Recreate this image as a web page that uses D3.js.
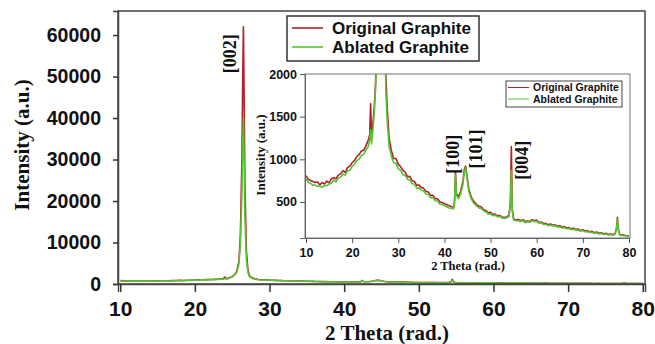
<!DOCTYPE html>
<html>
<head>
<meta charset="utf-8">
<script src="https://cdn.jsdelivr.net/npm/d3@7"></script>
<style>
  html, body { margin: 0; padding: 0; background: #fff; }
  svg { display: block; }
</style>
</head>
<body>
<svg id="chart" width="655" height="344"></svg>
<script>
// 2-theta positions shared by both scans
const angles = [
  10, 10.5, 11, 11.5, 12, 12.5, 13, 13.5, 14, 14.5,
  15, 15.5, 16, 16.5, 17, 17.5, 18, 18.5, 19, 19.5,
  20, 20.5, 21, 21.5, 22, 22.5, 23, 23.5, 23.8, 24.0,
  24.2, 24.5, 24.8, 25.0, 25.3, 25.6, 25.9, 26.1, 26.3, 26.4,
  26.5, 26.6, 26.7, 26.9, 27.1, 27.3, 27.6, 28, 28.5, 29,
  29.5, 30, 30.5, 31, 31.5, 32, 32.5, 33, 33.5, 34,
  34.5, 35, 35.5, 36, 36.5, 37, 37.5, 38, 38.5, 39,
  39.5, 40, 40.5, 41, 41.5, 42, 42.2, 42.4, 42.6, 43,
  43.5, 44, 44.3, 44.6, 44.9, 45.3, 45.8, 46.3, 47, 47.5,
  48, 48.5, 49, 49.5, 50, 50.5, 51, 51.5, 52, 52.5,
  53, 53.5, 54, 54.3, 54.5, 54.7, 55, 55.5, 56, 56.5,
  57, 57.5, 58, 58.5, 59, 59.5, 60, 60.5, 61, 61.5,
  62, 62.5, 63, 63.5, 64, 64.5, 65, 65.5, 66, 66.5,
  67, 67.5, 68, 68.5, 69, 69.5, 70, 70.5, 71, 71.5,
  72, 72.5, 73, 73.5, 74, 74.5, 75, 75.5, 76, 76.5,
  77, 77.3, 77.5, 77.7, 78, 78.5, 79, 79.5, 80
];

const originalGraphite = [
  810, 765, 752, 740, 728, 735, 700, 728, 712, 745,
  725, 770, 785, 772, 815, 830, 868, 846, 905, 920,
  960, 985, 1030, 1055, 1098, 1105, 1160, 1225, 1290, 1650,
  1300, 1420, 1620, 1800, 2200, 3000, 5500, 12000, 30000, 48000,
  62000, 45000, 24000, 8000, 3500, 2000, 1600, 1250, 1100, 1010,
  1010, 940, 915, 870, 850, 795, 800, 748, 740, 695,
  700, 670, 660, 622, 618, 575, 580, 540, 538, 500,
  495, 480, 470, 455, 445, 440, 520, 850, 600, 560,
  620, 740, 880, 920, 800, 650, 560, 510, 470, 450,
  440, 410, 400, 372, 378, 352, 358, 338, 342, 322,
  320, 325, 345, 500, 1150, 420, 300, 290, 295, 280,
  292, 270, 278, 272, 292, 282, 288, 260, 266, 245,
  250, 232, 242, 228, 232, 215, 222, 205, 212, 196,
  200, 185, 194, 176, 182, 165, 175, 160, 165, 150,
  156, 140, 148, 134, 140, 126, 134, 120, 126, 116,
  130, 200, 320, 180, 120, 115, 110, 105, 100
];

const ablatedGraphite = [
  770, 728, 720, 695, 700, 682, 688, 672, 695, 690,
  710, 718, 758, 735, 782, 790, 828, 815, 868, 872,
  918, 938, 985, 1002, 1048, 1058, 1110, 1150, 1230, 1350,
  1180, 1340, 1550, 1750, 2100, 2800, 4800, 10000, 22000, 33000,
  40000, 30000, 16000, 6000, 2800, 1800, 1450, 1150, 1040, 960,
  950, 892, 870, 822, 810, 765, 760, 715, 708, 662,
  668, 638, 628, 592, 590, 548, 552, 515, 512, 475,
  470, 455, 445, 430, 425, 420, 500, 820, 580, 540,
  590, 700, 850, 900, 780, 620, 540, 490, 455, 430,
  422, 395, 385, 358, 362, 340, 345, 325, 330, 312,
  310, 315, 330, 480, 870, 400, 290, 280, 280, 270,
  282, 258, 268, 262, 282, 270, 276, 250, 256, 236,
  240, 222, 230, 218, 222, 205, 210, 195, 200, 186,
  190, 176, 184, 168, 172, 158, 165, 150, 155, 142,
  146, 132, 138, 126, 132, 118, 125, 112, 118, 108,
  125, 190, 300, 170, 112, 108, 104, 100, 95
];

const seriesNames = ["Original Graphite", "Ablated Graphite"];
const seriesColors = ["#b3202a", "#55c530"];

const xTicks = [10, 20, 30, 40, 50, 60, 70, 80];
const mainYTicks = [0, 10000, 20000, 30000, 40000, 50000, 60000];
const insetYTicks = [500, 1000, 1500, 2000];

const peakLabels = [
  { text: "[002]", angle: 26.5, value: 55500, inset: false },
  { text: "[100]", angle: 41.7, value: 1060, inset: true },
  { text: "[101]", angle: 46.7, value: 1120, inset: true },
  { text: "[004]", angle: 56.8, value: 990, inset: true }
];

const svg = d3.select("#chart");
const sans = "'Liberation Sans', Arial, sans-serif";
const serif = "'Liberation Serif', 'Times New Roman', serif";

const scans = [originalGraphite, ablatedGraphite].map((vals) =>
  angles.map((a, i) => ({ x: a, y: vals[i] }))
);

// ---------- main plot ----------
const main = { left: 118, right: 645, top: 11, bottom: 284 };
const x = d3.scaleLinear().domain([9.7, 80.3]).range([main.left, main.right]);
const y = d3.scaleLinear().domain([0, 65800]).range([main.bottom, main.top]);

const defs = svg.append("defs");
defs.append("clipPath").attr("id", "main-clip")
  .append("rect")
  .attr("x", main.left).attr("y", main.top)
  .attr("width", main.right - main.left).attr("height", main.bottom - main.top);

const mainLine = d3.line().x((d) => x(d.x)).y((d) => y(d.y));
svg.append("g").attr("clip-path", "url(#main-clip)")
  .selectAll("path")
  .data(scans)
  .join("path")
  .attr("fill", "none")
  .attr("stroke", (d, i) => seriesColors[i])
  .attr("stroke-width", 1.6)
  .attr("stroke-linejoin", "round")
  .attr("d", mainLine);

svg.append("rect")
  .attr("x", main.left).attr("y", main.top)
  .attr("width", main.right - main.left).attr("height", main.bottom - main.top)
  .attr("fill", "none").attr("stroke", "#444").attr("stroke-width", 1.5);

const xAxis = svg.append("g")
  .attr("transform", `translate(0,${main.bottom})`)
  .call(d3.axisBottom(x).tickValues(xTicks).tickSize(8).tickPadding(9));
const yAxis = svg.append("g")
  .attr("transform", `translate(${main.left},0)`)
  .call(d3.axisLeft(y).tickValues(mainYTicks).tickSize(5).tickPadding(12).tickFormat(d3.format("d")));

[xAxis, yAxis].forEach((g) => {
  g.select(".domain").attr("stroke", "#444").attr("stroke-width", 1.5);
  g.selectAll(".tick line").attr("stroke", "#333").attr("stroke-width", 1.5);
  g.selectAll(".tick text")
    .attr("fill", "#111").attr("font-family", sans).attr("font-weight", "bold");
});
xAxis.selectAll(".tick text").attr("font-size", 21);
yAxis.selectAll(".tick text").attr("font-size", 19.5);

svg.append("text")
  .attr("transform", "translate(22,145) rotate(-90)")
  .attr("dy", "0.35em")
  .attr("text-anchor", "middle")
  .attr("font-family", serif).attr("font-weight", "bold").attr("font-size", 21)
  .attr("fill", "#111")
  .text("Intensity (a.u.)");

svg.append("text")
  .attr("x", 387).attr("y", 340)
  .attr("text-anchor", "middle")
  .attr("font-family", serif).attr("font-weight", "bold").attr("font-size", 21)
  .attr("fill", "#111")
  .text("2 Theta (rad.)");

// main legend
const legend = svg.append("g");
legend.append("rect")
  .attr("x", 287).attr("y", 16).attr("width", 192).attr("height", 45)
  .attr("fill", "#fff").attr("stroke", "#333").attr("stroke-width", 1.5);
seriesNames.forEach((name, i) => {
  const ly = 28 + i * 19;
  legend.append("line")
    .attr("x1", 292).attr("x2", 323).attr("y1", ly).attr("y2", ly)
    .attr("stroke", seriesColors[i]).attr("stroke-width", 1.6);
  legend.append("text")
    .attr("x", 332).attr("y", ly + 5.5)
    .attr("font-family", sans).attr("font-weight", "bold").attr("font-size", 17)
    .attr("fill", "#111")
    .text(name);
});

// ---------- inset ----------
const inset = { left: 305, right: 630, top: 74, bottom: 238 };
const ix = d3.scaleLinear().domain([10, 80]).range([306, 629]);
const iy = d3.scaleLinear().domain([78, 2000]).range([inset.bottom, inset.top]);

svg.append("rect")
  .attr("x", inset.left).attr("y", inset.top)
  .attr("width", inset.right - inset.left).attr("height", inset.bottom - inset.top)
  .attr("fill", "#fff");

defs.append("clipPath").attr("id", "inset-clip")
  .append("rect")
  .attr("x", inset.left).attr("y", inset.top)
  .attr("width", inset.right - inset.left).attr("height", inset.bottom - inset.top);

const insetLine = d3.line().x((d) => ix(d.x)).y((d) => iy(d.y));
svg.append("g").attr("clip-path", "url(#inset-clip)")
  .selectAll("path")
  .data(scans)
  .join("path")
  .attr("fill", "none")
  .attr("stroke", (d, i) => seriesColors[i])
  .attr("stroke-width", 1.6)
  .attr("stroke-linejoin", "round")
  .attr("d", insetLine);

svg.append("rect")
  .attr("x", inset.left).attr("y", inset.top)
  .attr("width", inset.right - inset.left).attr("height", inset.bottom - inset.top)
  .attr("fill", "none").attr("stroke", "#777").attr("stroke-width", 1);

const ixAxis = svg.append("g")
  .attr("transform", `translate(0,${inset.bottom})`)
  .call(d3.axisBottom(ix).tickValues(xTicks).tickSize(5).tickPadding(5));
const iyAxis = svg.append("g")
  .attr("transform", `translate(${inset.left},0)`)
  .call(d3.axisLeft(iy).tickValues(insetYTicks).tickSize(5).tickPadding(3).tickFormat(d3.format("d")));

[ixAxis, iyAxis].forEach((g) => {
  g.select(".domain").attr("stroke", "#666");
  g.selectAll(".tick line").attr("stroke", "#555");
  g.selectAll(".tick text")
    .attr("fill", "#111").attr("font-family", sans).attr("font-weight", "bold")
    .attr("font-size", 12.5);
});

svg.append("text")
  .attr("transform", "translate(260,155) rotate(-90)")
  .attr("dy", "0.35em")
  .attr("text-anchor", "middle")
  .attr("font-family", serif).attr("font-weight", "bold").attr("font-size", 13)
  .attr("fill", "#111")
  .text("Intensity (a.u.)");

svg.append("text")
  .attr("x", 468).attr("y", 270)
  .attr("text-anchor", "middle")
  .attr("font-family", serif).attr("font-weight", "bold").attr("font-size", 12.5)
  .attr("fill", "#111")
  .text("2 Theta (rad.)");

// inset legend
const insetLegend = svg.append("g");
insetLegend.append("rect")
  .attr("x", 506).attr("y", 81).attr("width", 116).attr("height", 26)
  .attr("fill", "#fff").attr("stroke", "#444").attr("stroke-width", 1);
seriesNames.forEach((name, i) => {
  const ly = 87.5 + i * 11.5;
  insetLegend.append("line")
    .attr("x1", 508).attr("x2", 529).attr("y1", ly).attr("y2", ly)
    .attr("stroke", seriesColors[i]).attr("stroke-width", 1);
  insetLegend.append("text")
    .attr("x", 533).attr("y", ly + 3.5)
    .attr("font-family", sans).attr("font-weight", "bold").attr("font-size", 10.5)
    .attr("fill", "#111")
    .text(name);
});

// peak annotations (rotated Miller indices)
svg.append("g")
  .selectAll("text")
  .data(peakLabels)
  .join("text")
  .attr("transform", (d) => {
    const px = d.inset ? ix(d.angle) : x(d.angle) - 14;
    const py = d.inset ? iy(d.value) : y(d.value);
    return `translate(${px},${py}) rotate(-90)`;
  })
  .attr("dy", "0.35em")
  .attr("text-anchor", "middle")
  .attr("font-family", serif).attr("font-weight", "bold").attr("font-size", 18)
  .attr("fill", "#111")
  .text((d) => d.text);
</script>
</body>
</html>
